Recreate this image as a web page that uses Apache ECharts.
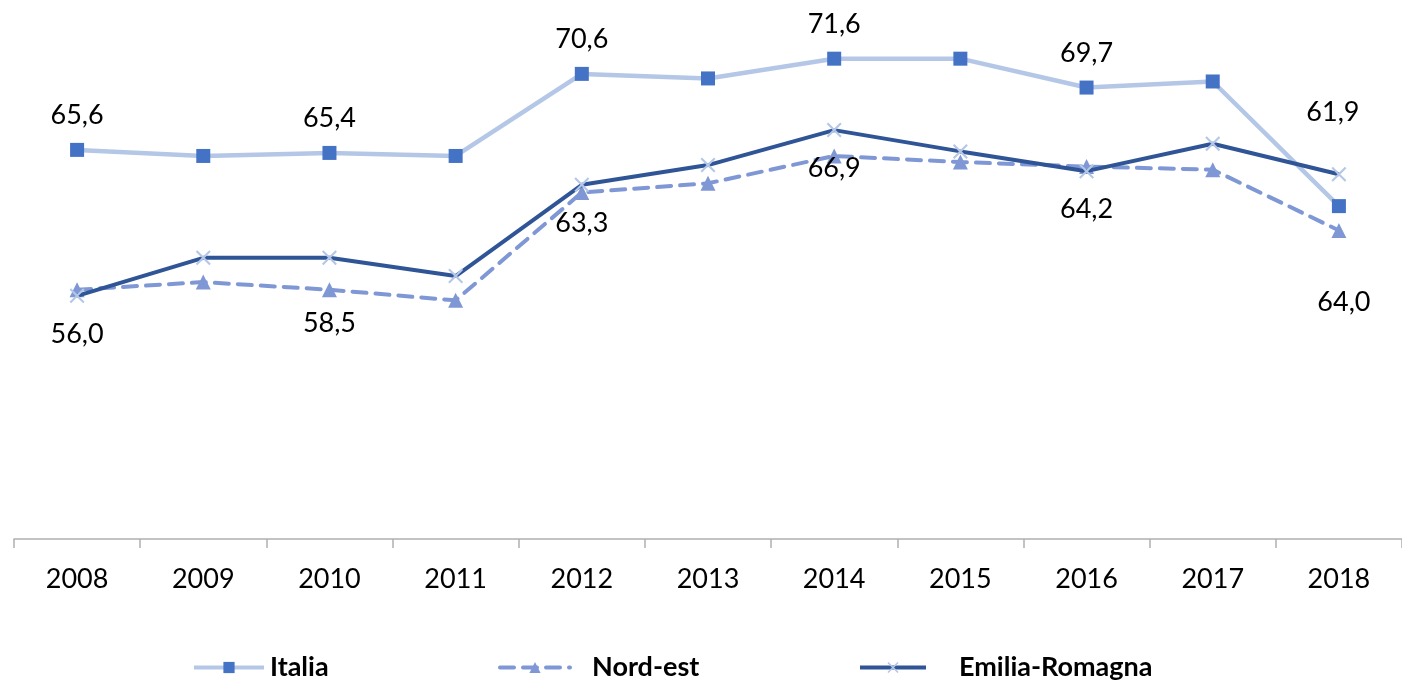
<!DOCTYPE html>
<html>
<head>
<meta charset="utf-8">
<script src="https://cdn.jsdelivr.net/npm/echarts@6/dist/echarts.min.js"></script>
<style>
  html, body { margin: 0; padding: 0; background: #fff; }
  #main { width: 1402px; height: 684px; }
</style>
</head>
<body>
<div id="main"></div>
<script>
var years = ['2008', '2009', '2010', '2011', '2012', '2013', '2014', '2015', '2016', '2017', '2018'];
var italia = [65.6, 65.2, 65.4, 65.2, 70.6, 70.3, 71.6, 71.6, 69.7, 70.1, 61.9];
var nordEst = [56.4, 56.9, 56.4, 55.7, 62.8, 63.4, 65.2, 64.8, 64.5, 64.3, 60.3];
var emilia = [56.0, 58.5, 58.5, 57.3, 63.3, 64.6, 66.9, 65.5, 64.2, 66.0, 64.0];

// indici dei punti con etichetta
var italiaLabelIdx = [0, 2, 4, 6, 8, 10];
var emiliaLabelIdx = [0, 2, 4, 6, 8, 10];

var chart = echarts.init(document.getElementById('main'));

var FONT = 'Lato';
var xSymbol = 'path://M0,1 L1,0 L10,9 L9,10 Z M9,0 L10,1 L1,10 L0,9 Z';

function fmt(v) {
  return v.toFixed(1).replace('.', ',');
}

// etichette spostate a mano come nell'originale
var italiaOffsets = { 10: [-6, -59] };
var emiliaOffsets = { 2: [0, 27], 10: [5, 90] };

function buildData(values, labelIdx, pos, dist, offsets) {
  return values.map(function (v, i) {
    var item = { value: v };
    if (labelIdx.indexOf(i) >= 0) {
      item.label = {
        show: true,
        position: pos,
        distance: dist,
        formatter: function (p) { return fmt(p.value); }
      };
      if (offsets[i]) {
        item.label.offset = offsets[i];
      }
    }
    return item;
  });
}

var labelText = {
  fontFamily: FONT,
  fontSize: 27,
  color: '#000'
};

var legendText = function (gap) {
  return { fontFamily: FONT, fontSize: 27, fontWeight: 'bold', color: '#000', padding: [0, 0, 0, gap] };
};

var option = {
  animation: false,
  backgroundColor: '#fff',
  grid: {
    left: 14,
    right: 0,
    top: 7,
    bottom: 145,
    containLabel: false
  },
  legend: [
    {
      data: ['Italia'],
      left: 192, top: 654, padding: 0,
      itemWidth: 70, itemHeight: 14,
      lineStyle: { width: 4 },
      textStyle: legendText(1)
    },
    {
      data: ['Nord-est'],
      left: 498, top: 654, padding: 0,
      itemWidth: 70, itemHeight: 14,
      lineStyle: { width: 4 },
      textStyle: legendText(17)
    },
    {
      data: ['Emilia-Romagna'],
      left: 858, top: 654, padding: 0,
      itemWidth: 66, itemHeight: 14,
      lineStyle: { width: 4 },
      textStyle: legendText(28)
    }
  ],
  xAxis: {
    type: 'category',
    data: years,
    boundaryGap: true,
    axisLine: { lineStyle: { color: '#B0B0B0', width: 1.5 } },
    axisTick: { show: true, length: 9, lineStyle: { color: '#B0B0B0', width: 1.5 } },
    axisLabel: { fontFamily: FONT, fontSize: 27, color: '#000', margin: 27 }
  },
  yAxis: {
    type: 'value',
    min: 40,
    max: 75,
    show: false,
    splitLine: { show: false }
  },
  series: [
    {
      name: 'Italia',
      type: 'line',
      data: buildData(italia, italiaLabelIdx, 'top', 14, italiaOffsets),
      symbol: 'rect',
      symbolSize: 14,
      z: 3,
      lineStyle: { color: '#B4C7E7', width: 4.5 },
      itemStyle: { color: '#4472C4' },
      label: labelText
    },
    {
      name: 'Nord-est',
      type: 'line',
      data: nordEst,
      symbol: 'triangle',
      symbolSize: 15,
      z: 2,
      lineStyle: { color: '#7F98D5', width: 4, type: [14, 9], cap: 'round' },
      itemStyle: { color: '#7F98D5' }
    },
    {
      name: 'Emilia-Romagna',
      type: 'line',
      data: buildData(emilia, emiliaLabelIdx, 'bottom', 17, emiliaOffsets),
      symbol: xSymbol,
      symbolSize: 15,
      z: 4,
      lineStyle: { color: '#2F5597', width: 4 },
      itemStyle: { color: '#B4C7E7' },
      label: labelText
    }
  ]
};

chart.setOption(option);
</script>
</body>
</html>
